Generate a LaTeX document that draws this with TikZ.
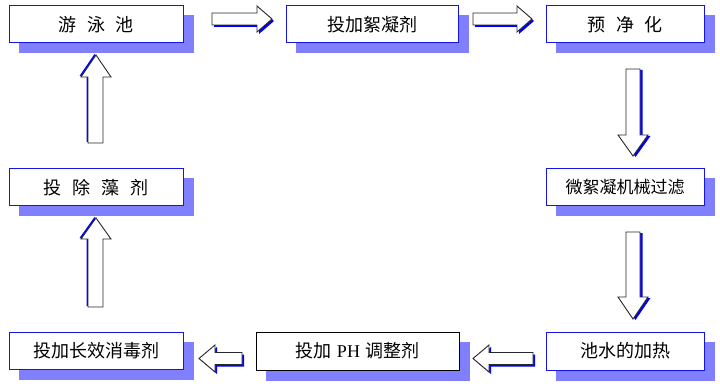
\documentclass[tikz,border=0pt]{standalone}
\usepackage{fontspec}
\setmainfont{Liberation Serif}
\newfontfamily\cjk{Noto Sans CJK SC}
\usetikzlibrary{backgrounds}
\definecolor{bordblue}{RGB}{20,20,230}
\definecolor{shadblue}{RGB}{128,128,255}
\definecolor{arrblue}{RGB}{0,0,255}
\definecolor{arrline}{RGB}{40,40,40}
\tikzset{
  box/.style={draw=bordblue, line width=1pt, fill=white, inner sep=0pt,
    font=\cjk\fontsize{18}{20}\selectfont},
  boxshadow/.style={fill=shadblue, draw=none},
  blockarrow/.style={draw=arrline, line width=0.9pt, fill=white, line join=miter},
  arrshadow/.style={fill=arrblue, draw=none},
}
\begin{document}
\begin{tikzpicture}[x=1pt,y=-1pt]
\useasboundingbox (0,0) rectangle (720,390);
% boxes
\node[box, minimum width=174pt, minimum height=37pt] (pool) at (96,24.5) {游\hspace{0.6em}泳\hspace{0.6em}池};
\node[box, minimum width=172pt, minimum height=37pt] (floc) at (372,24.5) {投加絮凝剂};
\node[box, minimum width=158pt, minimum height=37pt] (pre) at (625,24.5) {预\hspace{0.6em}净\hspace{0.6em}化};
\node[box, minimum width=158pt, minimum height=37pt, font=\cjk\fontsize{17}{20}\selectfont] (filt) at (625,187.5) {微絮凝机械过滤};
\node[box, minimum width=158pt, minimum height=38pt] (heat) at (625,351) {池水的加热};
\node[box, draw=black, minimum width=203pt, minimum height=38pt] (ph) at (357.5,351) {投加\hspace{0.3em}{\rmfamily PH}\hspace{0.3em}调整剂};
\node[box, minimum width=174pt, minimum height=37pt] (dis) at (96,350.5) {投加长效消毒剂};
\node[box, minimum width=174pt, minimum height=37pt] (algae) at (96,187.5) {投\hspace{0.6em}除\hspace{0.6em}藻\hspace{0.6em}剂};
\begin{scope}[on background layer]
\foreach \n in {pool,floc,pre,filt,heat,ph,dis,algae}{
  \fill[boxshadow] ([shift={(10,10)}]\n.south west) rectangle ([shift={(10,10)}]\n.north east);
}
\end{scope}
% right arrows
\foreach \a/\b/\c in {212/257/272, 473/517/532}{
  \fill[arrshadow, shift={(2,2)}] (\a,13)--(\b,13)--(\b,6)--(\c,19)--(\b,32)--(\b,25)--(\a,25)--cycle;
  \draw[blockarrow] (\a,13)--(\b,13)--(\b,6)--(\c,19)--(\b,32)--(\b,25)--(\a,25)--cycle;
}
% down arrows
\foreach \a/\b/\c in {69/135/156, 232/297/319}{
  \fill[arrshadow, shift={(2.5,1)}] (626,\a)--(640,\a)--(640,\b)--(648,\b)--(633,\c)--(618,\b)--(626,\b)--cycle;
  \draw[blockarrow] (626,\a)--(640,\a)--(640,\b)--(648,\b)--(633,\c)--(618,\b)--(626,\b)--cycle;
}
% up arrows
\foreach \a/\b/\c in {143/77/55, 307/239/218}{
  \fill[arrshadow, shift={(-1.5,-1)}] (88,\a)--(103,\a)--(103,\b)--(111,\b)--(96,\c)--(81,\b)--(88,\b)--cycle;
  \draw[blockarrow] (88,\a)--(103,\a)--(103,\b)--(111,\b)--(96,\c)--(81,\b)--(88,\b)--cycle;
}
% left arrows
\foreach \a/\b/\c in {533/489/473, 242/215/199}{
  \fill[arrshadow, shift={(2,2)}] (\a,352.5)--(\b,352.5)--(\b,345)--(\c,358.5)--(\b,372)--(\b,364.5)--(\a,364.5)--cycle;
  \draw[blockarrow] (\a,352.5)--(\b,352.5)--(\b,345)--(\c,358.5)--(\b,372)--(\b,364.5)--(\a,364.5)--cycle;
}
\end{tikzpicture}
\end{document}
